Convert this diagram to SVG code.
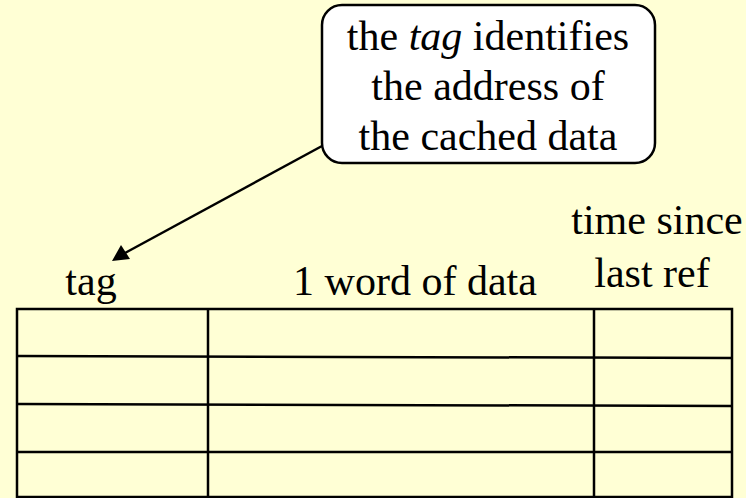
<svg xmlns="http://www.w3.org/2000/svg" width="746" height="498" viewBox="0 0 746 498">
  <defs>
    <marker id="arrowhead" markerWidth="10" markerHeight="8" refX="9" refY="4" orient="auto" markerUnits="userSpaceOnUse" viewBox="0 0 10 8">
      <path d="M0,0 L10,4 L0,8 z" fill="#000"/>
    </marker>
    <style>
      .bg { fill: #FFFFD5; }
      .txt { font-family: "Liberation Serif", "Times New Roman", serif; font-size: 42px; fill: #000; text-anchor: middle; }
      .grid { stroke: #000; stroke-width: 2.5; fill: none; }
      .callout { fill: #FFFFFF; stroke: #000; stroke-width: 2.5; }
      .conn { stroke: #000; stroke-width: 2.5; fill: none; }
    </style>
  </defs>

  <rect class="bg" x="0" y="0" width="746" height="498"/>

  <!-- connector from the callout to the tag column heading -->
  <g id="connectors">
    <line class="conn" x1="322" y1="146" x2="125" y2="253"/>
    <path d="M112,261 L121,245 L130,259 z" fill="#000"/>
  </g>

  <!-- callout box -->
  <g id="callout">
    <rect class="callout" x="322" y="5" width="333" height="158" rx="20" ry="20"/>
    <text class="txt" x="488" y="50">the <tspan font-style="italic">tag</tspan> identifies</text>
    <text class="txt" x="488" y="100">the address of</text>
    <text class="txt" x="488" y="150">the cached data</text>
  </g>

  <!-- column headings -->
  <g id="headings">
    <text class="txt" x="91" y="295">tag</text>
    <text class="txt" x="415" y="295">1 word of data</text>
    <text class="txt" x="657" y="234">time since</text>
    <text class="txt" x="652" y="287">last ref</text>
  </g>

  <!-- cache table -->
  <g id="table">
    <rect class="grid" x="17" y="309" width="715" height="188"/>
    <line class="grid" x1="208" y1="309" x2="208" y2="497"/>
    <line class="grid" x1="594" y1="309" x2="594" y2="497"/>
    <line class="grid" x1="17" y1="356" x2="732" y2="358"/>
    <line class="grid" x1="17" y1="404" x2="732" y2="406"/>
    <line class="grid" x1="17" y1="452" x2="732" y2="452"/>
  </g>
</svg>
